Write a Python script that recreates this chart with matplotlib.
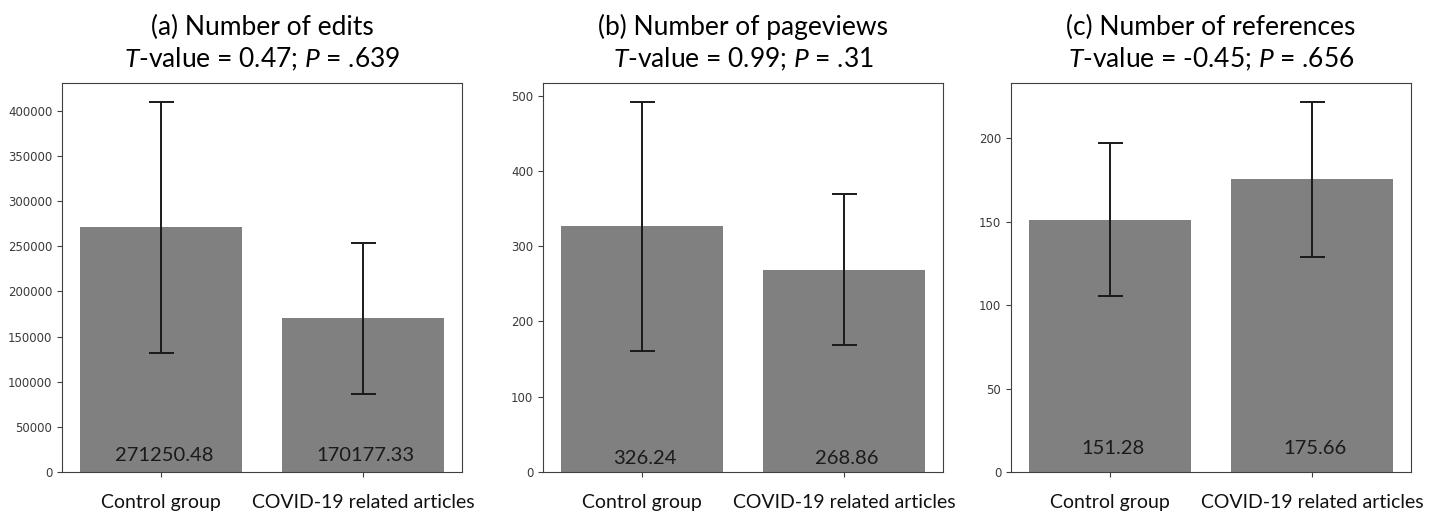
import matplotlib
matplotlib.use("Agg")
import matplotlib.pyplot as plt
from matplotlib.ticker import MultipleLocator

plt.rcParams['mathtext.fontset'] = 'custom'
plt.rcParams['mathtext.rm'] = 'Lato'
plt.rcParams['mathtext.it'] = 'Lato:italic'

# data
categories = ["Control group", "COVID-19 related articles"]

edits_mean = [271250.48, 170177.33]
edits_err = [139000, 83500]

pageviews_mean = [326.24, 268.86]
pageviews_err = [166, 100]

refs_mean = [151.28, 175.66]
refs_err = [45.8, 46.5]

panel_titles = ["(a) Number of edits", "(b) Number of pageviews", "(c) Number of references"]
t_values = ["0.47", "0.99", "-0.45"]
p_values = [".639", ".31", ".656"]

means = [edits_mean, pageviews_mean, refs_mean]
errs = [edits_err, pageviews_err, refs_err]

# layout stuff (pixels of a 1442x516 figure)
W, H = 1442, 516
ax_lefts = [62, 543, 1011]
ax_w, ax_bottom, ax_h = 400, 44, 389
tick_steps = [50000, 100, 50]
label_offsets = [12, 10, 17]  # points above the baseline

fig = plt.figure(figsize=(W / 100, H / 100), dpi=100)

for k in range(3):
    ax = fig.add_axes([ax_lefts[k] / W, ax_bottom / H, ax_w / W, ax_h / H])
    x = list(range(len(categories)))
    ax.bar(x, means[k], width=0.8, color="#808080",
           yerr=errs[k], capsize=9,
           error_kw=dict(ecolor="#1a1a1a", elinewidth=1.4, capthick=1.4))

    for i, v in enumerate(means[k]):
        ax.annotate(f"{v:.2f}", xy=(i, 0), xytext=(2, label_offsets[k]),
                    textcoords="offset points", ha="center", va="center",
                    fontsize=14.5, family="Lato", color="#1a1a1a")

    ax.yaxis.set_major_locator(MultipleLocator(tick_steps[k]))
    ax.set_xticks(x)
    ax.set_xticklabels(categories, family="Lato", fontsize=14, color="#111111")
    ax.tick_params(axis="x", pad=12, color="#404040")
    ax.tick_params(axis="y", labelsize=8.5, labelcolor="#3a3a3a", color="#404040")
    for s in ax.spines.values():
        s.set_color("#404040")

    ax.set_title(f"{panel_titles[k]}\n$T$-value = {t_values[k]}; $P$ = {p_values[k]}",
                 family="Lato", fontsize=19, pad=11, linespacing=1.3)

fig.savefig("out.png", dpi=100)
